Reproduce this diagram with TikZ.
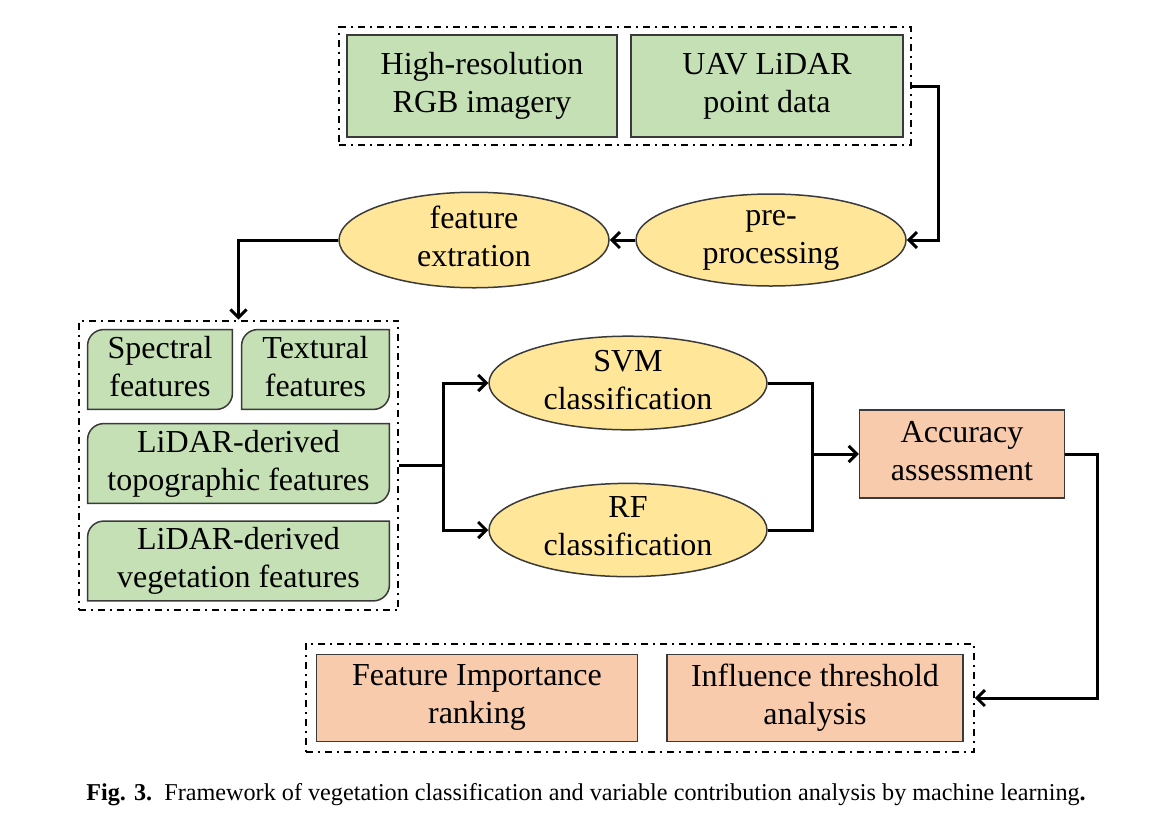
\documentclass[tikz,border=0pt]{standalone}
\usepackage{fontspec}
\setmainfont{Liberation Serif}
\usetikzlibrary{shapes.geometric, arrows.meta, backgrounds, fit}

\definecolor{inputgreen}{HTML}{C5E0B4}
\definecolor{procyellow}{HTML}{FFE699}
\definecolor{outorange}{HTML}{F8CBAD}
\definecolor{edgegray}{HTML}{3A3A3A}

\tikzset{
  lbl/.style={font=\fontsize{16}{19}\selectfont, align=center, inner sep=0pt,
    execute at begin node=\rule{0pt}{14.5pt}, execute at end node=\rule[-3.5pt]{0pt}{3.5pt}},
  databox/.style={lbl, rectangle, draw=edgegray, line width=0.75pt, fill=inputgreen},
  featbox/.style={lbl, rectangle, minimum height=39.5pt},
  procell/.style={lbl, ellipse, draw=edgegray, line width=0.75pt, fill=procyellow, minimum width=135pt, minimum height=46pt},
  resbox/.style={lbl, rectangle, draw=edgegray, line width=0.75pt, fill=outorange},
  grp/.style={draw=black, line width=1pt, dash pattern=on 3.5pt off 2.5pt on 1pt off 2.5pt},
  conn/.style={draw=black, line width=1.5pt},
  arr/.style={conn, -{Straight Barb[length=4pt,width=8pt]}}
}

\begin{document}
\begin{tikzpicture}[x=0.5pt, y=-0.5pt]
  \useasboundingbox (0,0) rectangle (1159,814);

  % input data
  \node[databox, minimum width=135pt, minimum height=51pt] (rgb) at (482,86) {High-resolution\\RGB imagery};
  \node[databox, minimum width=136pt, minimum height=51pt] (lidar) at (767,86) {UAV LiDAR\\point data};
  \node[grp, fit=(rgb)(lidar), inner sep=3.5pt] (datagrp) {};

  % processing
  \node[procell] (prep) at (771,240) {pre-\\processing};
  \node[procell] (fext) at (474,240) {feature\\extration};

  % feature sets
  \node[featbox, minimum width=72pt] (spec) at (160,369.5) {Spectral\\features};
  \node[featbox, minimum width=73.5pt] (text) at (315.5,369.5) {Textural\\features};
  \node[featbox, minimum width=150.5pt] (topo) at (238.5,463.5) {LiDAR-derived\\topographic features};
  \node[featbox, minimum width=150.5pt] (veg) at (238.5,561) {LiDAR-derived\\vegetation features};
  \node[grp, fit=(spec)(text)(topo)(veg), inner sep=4.5pt] (featgrp) {};
  \begin{scope}[on background layer]
    \foreach \n in {spec,text,topo,veg}
      \filldraw[draw=edgegray, line width=0.75pt, fill=inputgreen]
        ([yshift=-8pt]\n.north west) arc[start angle=180, end angle=90, radius=8pt]
        -- (\n.north east) -- ([yshift=8pt]\n.south east)
        arc[start angle=0, end angle=-90, radius=8pt] -- (\n.south west) -- cycle;
  \end{scope}

  % classifiers
  \node[procell, minimum width=139pt] (svm) at (628,383) {SVM\\classification};
  \node[procell, minimum width=139pt] (rf) at (628,530) {RF\\classification};
  \node[resbox, minimum width=102.5pt, minimum height=44pt] (acc) at (962,454) {Accuracy\\assessment};

  % analysis
  \node[resbox, minimum width=160.5pt, minimum height=43.5pt] (rank) at (477,698) {Feature Importance\\ranking};
  \node[resbox, minimum width=148pt, minimum height=43.5pt] (thr) at (815,698) {Influence threshold\\analysis};
  \node[grp, fit=(rank)(thr), inner sep=5pt] (resgrp) {};

  % connectors
  \draw[arr] (datagrp.east) -- ++(27,0) |- (prep.east);
  \draw[arr] (prep.west) -- (fext.east);
  \draw[arr] (fext.west) -| (featgrp.north);
  \draw[conn] (featgrp.east) -- ++(44,0) coordinate (split);
  \draw[arr] (split) |- (svm.west);
  \draw[arr] (split) |- (rf.west);
  \coordinate (join) at (812,454);
  \draw[conn] (svm.east) -| (join);
  \draw[conn] (rf.east) -| (join);
  \draw[arr] (join) -- (acc.west);
  \draw[arr] (acc.east) -- ++(32,0) |- (resgrp.east);

  % caption
  \node[inner sep=0pt, font=\fontsize{12.1}{14}\selectfont] (cap) at (586,795)
    {\textbf{Fig. 3.}\enspace Framework of vegetation classification and variable contribution analysis by machine learning\textbf{.}};
\end{tikzpicture}
\end{document}
